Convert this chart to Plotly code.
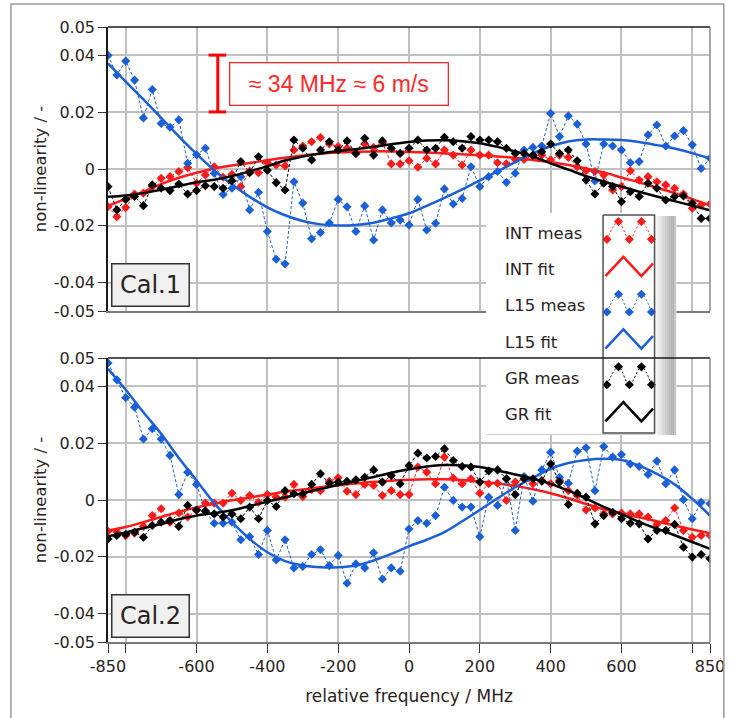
import plotly.graph_objects as go

# ---------------- data ----------------
freq = list(range(-850, 851, 25))          # measurement grid (MHz)
fit_freq = list(range(-850, 851, 50))      # sampling of fitted curves (MHz)

# Cal.1 (top panel)
int_meas_1 = [-0.0133, -0.0168, -0.0136, -0.0088, -0.0085, -0.0062, -0.0033, -0.0027, -0.0009, 0.0005,
              -0.0050, -0.0021, 0.0008, -0.0029, -0.0019, -0.0062, -0.0007, -0.0013, 0.0022, 0.0014,
              0.0011, 0.0067, 0.0081, 0.0096, 0.0111, 0.0088, 0.0079, 0.0073, 0.0055, 0.0088,
              0.0076, 0.0093, 0.0018, 0.0018, 0.0029, 0.0006, 0.0038, 0.0018, 0.0067, 0.0049,
              0.0014, 0.0067, 0.0049, 0.0049, 0.0022, 0.0018, 0.0034, 0.0034, 0.0046, 0.0049,
              0.0032, 0.0049, 0.0041, 0.0008, -0.0006, -0.0009, -0.0021, -0.0074, -0.0062, -0.0006,
              -0.0039, -0.0027, -0.0045, -0.0056, -0.0068, -0.0088, -0.0138, -0.0127, -0.0123]
l15_meas_1 = [0.0400, 0.0331, 0.0380, 0.0313, 0.0180, 0.0280, 0.0160, 0.0147, 0.0173, 0.0020,
              0.0050, 0.0073, -0.0015, -0.0090, -0.0068, -0.0027, -0.0144, -0.0082, -0.0220, -0.0318,
              -0.0334, -0.0045, -0.0120, -0.0246, -0.0224, -0.0190, -0.0107, -0.0133, -0.0220, -0.0130,
              -0.0250, -0.0144, -0.0190, -0.0180, -0.0197, -0.0107, -0.0215, -0.0191, -0.0070, -0.0123,
              -0.0104, 0.0008, -0.0062, -0.0027, -0.0009, -0.0047, -0.0015, 0.0067, 0.0076, 0.0081,
              0.0196, 0.0114, 0.0187, 0.0158, 0.0088, -0.0042, 0.0088, 0.0081, 0.0067, 0.0022,
              0.0026, 0.0120, 0.0155, 0.0081, 0.0116, 0.0135, 0.0085, 0.0002, 0.0038]
gr_meas_1 = [-0.0062, -0.0144, -0.0107, -0.0097, -0.0129, -0.0056, -0.0068, -0.0076, -0.0053, -0.0088,
             -0.0076, -0.0059, -0.0062, -0.0068, -0.0041, 0.0026, -0.0013, 0.0043, -0.0004, -0.0048,
             -0.0074, 0.0102, 0.0073, 0.0032, 0.0067, 0.0096, 0.0067, 0.0099, 0.0055, 0.0108,
             0.0049, 0.0099, 0.0073, 0.0055, 0.0073, 0.0102, 0.0067, 0.0073, 0.0112, 0.0096,
             0.0073, 0.0114, 0.0102, 0.0102, 0.0096, 0.0073, 0.0055, 0.0055, 0.0049, 0.0061,
             0.0088, 0.0055, 0.0067, 0.0029, -0.0039, -0.0088, -0.0050, -0.0062, -0.0115, -0.0080,
             -0.0097, -0.0050, -0.0068, -0.0109, -0.0097, -0.0095, -0.0121, -0.0174, -0.0174]
int_fit_1 = [-0.0130, -0.0105, -0.0080, -0.0053, -0.0031, -0.0013, 0.0002, 0.0012, 0.0021, 0.0031,
             0.0040, 0.0048, 0.0054, 0.0058, 0.0061, 0.0062, 0.0062, 0.0060, 0.0058, 0.0055,
             0.0052, 0.0048, 0.0044, 0.0039, 0.0032, 0.0024, 0.0014, 0.0002, -0.0012, -0.0030,
             -0.0047, -0.0066, -0.0085, -0.0106, -0.0128]
l15_fit_1 = [0.0372, 0.0308, 0.0245, 0.0180, 0.0115, 0.0053, -0.0005, -0.0055, -0.0098, -0.0135,
             -0.0163, -0.0183, -0.0195, -0.0199, -0.0197, -0.0189, -0.0174, -0.0156, -0.0130, -0.0102,
             -0.0072, -0.0040, -0.0008, 0.0024, 0.0055, 0.0080, 0.0097, 0.0104, 0.0104, 0.0102,
             0.0095, 0.0084, 0.0072, 0.0056, 0.0037]
gr_fit_1 = [-0.0098, -0.0093, -0.0085, -0.0073, -0.0060, -0.0047, -0.0038, -0.0025, -0.0008, 0.0010,
            0.0030, 0.0044, 0.0055, 0.0063, 0.0070, 0.0078, 0.0087, 0.0095, 0.0100, 0.0101,
            0.0098, 0.0091, 0.0078, 0.0062, 0.0044, 0.0020, -0.0002, -0.0025, -0.0044, -0.0062,
            -0.0080, -0.0097, -0.0113, -0.0129, -0.0145]

# Cal.2 (bottom panel)
int_meas_2 = [-0.0110, -0.0113, -0.0126, -0.0117, -0.0093, -0.0055, -0.0031, -0.0078, -0.0046, -0.0060,
              -0.0037, -0.0011, -0.0011, -0.0011, 0.0024, -0.0002, 0.0016, -0.0008, 0.0019, 0.0010,
              0.0010, 0.0055, 0.0012, 0.0036, 0.0033, 0.0066, 0.0078, 0.0031, 0.0019, 0.0055,
              0.0051, 0.0016, 0.0033, 0.0019, 0.0019, 0.0116, 0.0098, 0.0057, 0.0151, 0.0077,
              0.0057, 0.0075, 0.0024, 0.0057, 0.0059, -0.0002, 0.0063, 0.0075, 0.0057, 0.0069,
              0.0057, 0.0069, 0.0033, 0.0016, -0.0035, -0.0028, -0.0049, -0.0049, -0.0046, -0.0049,
              -0.0049, -0.0060, -0.0086, -0.0072, -0.0028, -0.0107, -0.0131, -0.0125, -0.0125]
l15_meas_2 = [0.0482, 0.0423, 0.0360, 0.0327, 0.0215, 0.0251, 0.0215, 0.0157, 0.0019, 0.0098,
              0.0055, -0.0039, -0.0082, -0.0082, -0.0078, -0.0140, -0.0129, -0.0192, -0.0107, -0.0211,
              -0.0140, -0.0239, -0.0234, -0.0192, -0.0175, -0.0231, -0.0195, -0.0293, -0.0225, -0.0239,
              -0.0186, -0.0278, -0.0239, -0.0251, -0.0102, -0.0072, -0.0082, -0.0055, 0.0045, -0.0002,
              -0.0025, -0.0025, -0.0129, 0.0010, -0.0019, 0.0075, -0.0107, 0.0083, -0.0004, 0.0106,
              0.0168, 0.0080, 0.0059, 0.0172, 0.0184, 0.0033, 0.0188, 0.0151, 0.0160, 0.0127,
              0.0118, 0.0090, 0.0137, 0.0057, 0.0106, 0.0001, -0.0066, -0.0008, -0.0013]
gr_meas_2 = [-0.0137, -0.0125, -0.0121, -0.0113, -0.0131, -0.0090, -0.0078, -0.0072, -0.0093, -0.0019,
             -0.0035, -0.0039, -0.0049, -0.0060, -0.0049, -0.0066, -0.0025, -0.0066, -0.0002, -0.0023,
             0.0033, 0.0022, 0.0022, 0.0055, 0.0092, 0.0059, 0.0063, 0.0066, 0.0071, 0.0080,
             0.0106, 0.0063, 0.0086, 0.0057, 0.0121, 0.0165, 0.0148, 0.0153, 0.0180, 0.0139,
             0.0118, 0.0116, 0.0063, 0.0102, 0.0106, 0.0075, 0.0019, 0.0075, 0.0075, 0.0066,
             0.0127, 0.0063, -0.0016, 0.0024, 0.0010, -0.0084, -0.0055, -0.0043, -0.0066, -0.0082,
             -0.0084, -0.0137, -0.0107, -0.0107, -0.0086, -0.0166, -0.0201, -0.0192, -0.0207]
int_fit_2 = [-0.0108, -0.0095, -0.0078, -0.0060, -0.0042, -0.0026, -0.0013, -0.0001, 0.0009, 0.0019,
             0.0029, 0.0037, 0.0045, 0.0052, 0.0058, 0.0064, 0.0068, 0.0071, 0.0073, 0.0073,
             0.0070, 0.0065, 0.0058, 0.0049, 0.0038, 0.0024, 0.0006, -0.0014, -0.0033, -0.0048,
             -0.0061, -0.0075, -0.0090, -0.0104, -0.0117]
l15_fit_2 = [0.0462, 0.0388, 0.0309, 0.0233, 0.0148, 0.0069, -0.0011, -0.0078, -0.0137, -0.0184,
             -0.0215, -0.0231, -0.0237, -0.0237, -0.0231, -0.0213, -0.0190, -0.0163, -0.0140, -0.0113,
             -0.0075, -0.0035, 0.0006, 0.0045, 0.0078, 0.0110, 0.0130, 0.0141, 0.0145, 0.0141,
             0.0121, 0.0092, 0.0055, 0.0004, -0.0055]
gr_fit_2 = [-0.0128, -0.0114, -0.0099, -0.0085, -0.0068, -0.0055, -0.0046, -0.0036, -0.0021, -0.0006,
            0.0009, 0.0024, 0.0039, 0.0053, 0.0067, 0.0081, 0.0096, 0.0108, 0.0118, 0.0123,
            0.0122, 0.0116, 0.0104, 0.0090, 0.0075, 0.0057, 0.0033, 0.0005, -0.0024, -0.0050,
            -0.0077, -0.0101, -0.0124, -0.0148, -0.0172]

series_names = ["INT meas", "INT fit", "L15 meas", "L15 fit", "GR meas", "GR fit"]
x_tickvals = [-850, -800, -600, -400, -200, 0, 200, 400, 600, 800, 850]
x_ticktext = ["-850", "", "-600", "-400", "-200", "0", "200", "400", "600", "", "850"]
y_tickvals = [-0.05, -0.04, -0.02, 0, 0.02, 0.04, 0.05]
y_ticktext = ["-0.05", "-0.04", "-0.02", "0", "0.02", "0.04", "0.05"]

# ---------------- style ----------------
RED = "#ff1a1a"
BLUE = "#1a5fd8"
BLACK = "#000000"
TXT = "#2a2222"
FONT = "DejaVu Sans"
GRID = "#c0c0c0"

fig = go.Figure()

panels = [
    ("x", "y", int_meas_1, int_fit_1, l15_meas_1, l15_fit_1, gr_meas_1, gr_fit_1),
    ("x2", "y2", int_meas_2, int_fit_2, l15_meas_2, l15_fit_2, gr_meas_2, gr_fit_2),
]
for xa, ya, im, ifit, lm, lfit, gm, gfit in panels:
    for meas, fit, col in ((im, ifit, RED), (lm, lfit, BLUE), (gm, gfit, BLACK)):
        fig.add_trace(go.Scatter(
            x=freq, y=meas, xaxis=xa, yaxis=ya, mode="lines+markers",
            line=dict(color=col, width=1, dash="3px,2px"),
            marker=dict(symbol="diamond", size=7, color=col),
            showlegend=False, hoverinfo="skip"))
        fig.add_trace(go.Scatter(
            x=fit_freq, y=fit, xaxis=xa, yaxis=ya, mode="lines",
            line=dict(color=col, width=2.5, shape="spline"),
            showlegend=False, hoverinfo="skip"))

# ---------------- custom legend (own axes x3/y3, pixel-like units) ----------------
LX0, LX1, LXS, LXG = 490, 660, 608, 682
LY0, LY1 = 213, 435
fig.add_trace(go.Scatter(x=[LX0, LX1, LX1, LX0, LX0], y=[LY0, LY0, LY1, LY1, LY0],
                         xaxis="x3", yaxis="y3", mode="lines", fill="toself",
                         fillcolor="white", line=dict(width=0), showlegend=False, hoverinfo="skip"))
grad = ["#fafafa", "#f2f2f2", "#e9e9e9", "#e0e0e0", "#d6d6d6", "#cdcdcd",
        "#c4c4c4", "#bcbcbc", "#b4b4b4", "#adadad", "#c6c6c6"]
for k, gc in enumerate(grad):
    gx0 = LX1 + 2 * k
    gx1 = gx0 + 2.2
    fig.add_trace(go.Scatter(x=[gx0, gx1, gx1, gx0, gx0], y=[LY0 + 3, LY0 + 3, LY1, LY1, LY0 + 3],
                             xaxis="x3", yaxis="y3", mode="lines", fill="toself",
                             fillcolor=gc, line=dict(width=0), showlegend=False, hoverinfo="skip"))
fig.add_trace(go.Scatter(x=[LX0, LX1], y=[LY1, LY1], xaxis="x3", yaxis="y3", mode="lines",
                         line=dict(color="#cccccc", width=2), showlegend=False, hoverinfo="skip"))

row_h = (433 - 215) / 6.0
leg_colors = [RED, RED, BLUE, BLUE, BLACK, BLACK]
for k, (name, col) in enumerate(zip(series_names, leg_colors)):
    top = 215 + k * row_h
    if k % 2 == 0:
        xs = [LXS + f * 52 for f in (0.076, 0.30, 0.51, 0.745, 0.94)]
        ys = [top + row_h * (1 - f) for f in (0.33, 0.82, 0.33, 0.82, 0.33)]
        fig.add_trace(go.Scatter(x=xs, y=ys, xaxis="x3", yaxis="y3", mode="lines+markers",
                                 line=dict(color=col, width=1, dash="2px,2px", shape="spline"),
                                 marker=dict(symbol="diamond", size=7, color=col),
                                 showlegend=False, hoverinfo="skip"))
    else:
        xs = [LXS + f * 52 for f in (0.045, 0.395, 0.745, 0.97)]
        ys = [top + row_h * (1 - f) for f in (0.32, 0.85, 0.32, 0.67)]
        fig.add_trace(go.Scatter(x=xs, y=ys, xaxis="x3", yaxis="y3", mode="lines",
                                 line=dict(color=col, width=2.5),
                                 showlegend=False, hoverinfo="skip"))
    fig.add_annotation(x=507, y=top + row_h / 2, xref="x3", yref="y3", text=name,
                       showarrow=False, xanchor="left", yanchor="middle",
                       font=dict(family=FONT, size=16.5, color=TXT))
# legend sample box
fig.add_trace(go.Scatter(x=[LXS, 660, 660, LXS, LXS], y=[215, 215, 433, 433, 215],
                         xaxis="x3", yaxis="y3", mode="lines",
                         line=dict(color="#505050", width=1.5), showlegend=False, hoverinfo="skip"))

# ---------------- axes ----------------
L, R, T, B = 108, 21, 27, 76
W, H = 737, 718
PW, PH = W - L - R, H - T - B

def fy(py):
    return (H - B - py) / PH

def fx(px):
    return (px - L) / PW

common_x = dict(range=[-850, 850], tickvals=x_tickvals, showgrid=True, gridcolor=GRID,
                gridwidth=1.5, zeroline=False, showline=True, linecolor="#7a7a7a", linewidth=1.5)
common_y = dict(range=[-0.05, 0.05], tickvals=y_tickvals, ticktext=y_ticktext, showgrid=True,
                gridcolor=GRID, gridwidth=1.5, zeroline=False, showline=True, linecolor="#1a1a1a",
                linewidth=1.5, ticks="outside", ticklen=8, tickcolor="#333333", tickwidth=1,
                tickfont=dict(family=FONT, size=16, color=TXT),
                title=dict(text="non-linearity / -", font=dict(family=FONT, size=16.5, color=TXT),
                           standoff=3))

fig.update_layout(
    width=W, height=H, margin=dict(l=L, r=R, t=T, b=B),
    paper_bgcolor="white", plot_bgcolor="white", showlegend=False,
    xaxis=dict(**common_x, anchor="y", showticklabels=False, ticks=""),
    yaxis=dict(**common_y, anchor="x", domain=[fy(311), 1.0]),
    xaxis2=dict(**common_x, anchor="y2", ticktext=x_ticktext, ticks="outside", ticklen=9,
                tickcolor="#333333", tickfont=dict(family=FONT, size=16, color=TXT),
                title=dict(text="relative frequency / MHz",
                           font=dict(family=FONT, size=17, color=TXT), standoff=15)),
    yaxis2=dict(**common_y, anchor="x2", domain=[0.0, fy(358)]),
    xaxis3=dict(domain=[fx(LX0), fx(LXG)], range=[LX0, LXG], visible=False, anchor="y3"),
    yaxis3=dict(domain=[fy(LY1), fy(LY0)], range=[LY1, LY0], visible=False, anchor="x3"),
)

shapes = []
for xa, ya in (("x", "y"), ("x2", "y2")):
    shapes.append(dict(type="line", xref=f"{xa} domain", yref=f"{ya} domain",
                       x0=0, x1=1, y0=1, y1=1, line=dict(color="#1a1a1a", width=1.5), layer="above"))
    shapes.append(dict(type="line", xref=f"{xa} domain", yref=f"{ya} domain",
                       x0=1, x1=1, y0=0, y1=1, line=dict(color="#8a8a8a", width=1.5), layer="above"))
# outer frame
shapes.append(dict(type="rect", xref="paper", yref="paper", x0=fx(10), x1=fx(730),
                   y0=fy(722), y1=fy(4), line=dict(color="#9a9a9a", width=1.5), layer="above"))
# error bar indicator
shapes += [
    dict(type="line", xref="x", yref="y", x0=-540, x1=-540, y0=0.0201, y1=0.0401,
         line=dict(color="#ff0000", width=3), layer="above"),
    dict(type="line", xref="x", yref="y", x0=-566, x1=-516, y0=0.0401, y1=0.0401,
         line=dict(color="#ff0000", width=3), layer="above"),
    dict(type="line", xref="x", yref="y", x0=-566, x1=-516, y0=0.0201, y1=0.0201,
         line=dict(color="#ff0000", width=3), layer="above"),
]
fig.update_layout(shapes=shapes)

fig.add_annotation(x=-197, y=0.0301, xref="x", yref="y", text="≈ 34 MHz ≈ 6 m/s",
                   showarrow=False, xanchor="center", yanchor="middle", width=217, height=41,
                   bgcolor="white", bordercolor="#ff2a2a", borderwidth=1.3, borderpad=0,
                   font=dict(family="Liberation Sans", size=23, color="#ff2a2a"))
for ya, label in (("y", "Cal.1"), ("y2", "Cal.2")):
    fig.add_annotation(x=-730, y=-0.0410, xref="x" if ya == "y" else "x2", yref=ya, text=label,
                       showarrow=False, xanchor="center", yanchor="middle", width=76, height=41,
                       bgcolor="#f0f0f0", bordercolor="#333333", borderwidth=1.5, borderpad=0,
                       font=dict(family=FONT, size=24, color=TXT))

fig.write_html("out.html")
